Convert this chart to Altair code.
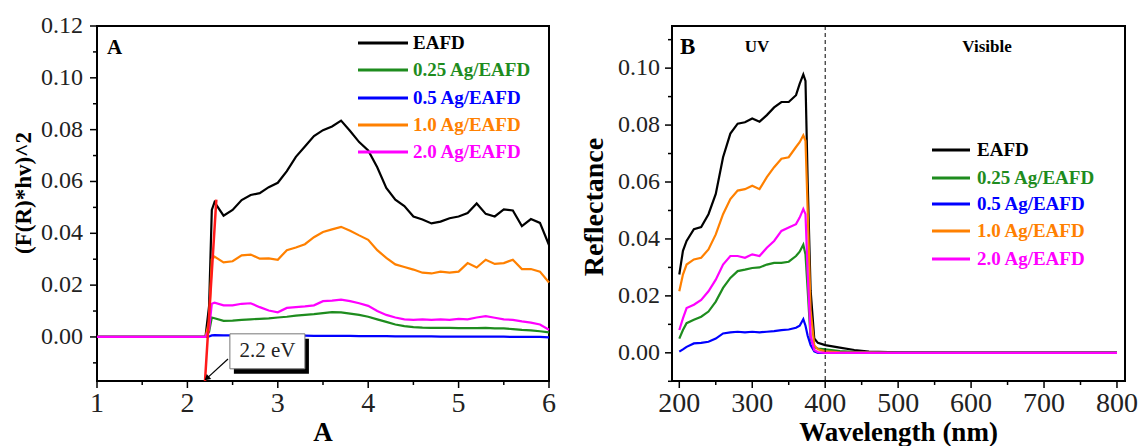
import altair as alt
import pandas as pd

SERIES = ["EAFD", "0.25 Ag/EAFD", "0.5 Ag/EAFD", "1.0 Ag/EAFD", "2.0 Ag/EAFD"]
COLORS = ["#000000", "#1E8C1E", "#0000FF", "#FF8000", "#FF00FF"]

# ---------------- Panel A (Tauc plot) ----------------
A_X = [1.0, 2.2, 2.24, 2.27, 2.3, 2.4, 2.5, 2.6, 2.7, 2.8, 2.9, 3.0, 3.1, 3.2, 3.3, 3.4,
       3.5, 3.6, 3.7, 3.8, 3.9, 4.0, 4.1, 4.2, 4.3, 4.4, 4.5, 4.6, 4.7, 4.8, 4.9, 5.0,
       5.1, 5.2, 5.3, 5.4, 5.5, 5.6, 5.7, 5.8, 5.9, 6.0]
A_EAFD = [0, 0, 0.012, 0.049, 0.052, 0.0468, 0.049, 0.0528, 0.0548, 0.0555, 0.0578, 0.0595,
          0.064, 0.0695, 0.0735, 0.0775, 0.0798, 0.0812, 0.0835, 0.0795, 0.0752, 0.072,
          0.0655, 0.0575, 0.053, 0.0505, 0.0465, 0.0453, 0.0438, 0.0445, 0.0458, 0.0465,
          0.0478, 0.0515, 0.0475, 0.0465, 0.0492, 0.0488, 0.0428, 0.0455, 0.044, 0.0355]
A_025 = [0, 0, 0.002, 0.0075, 0.0072, 0.0062, 0.0063, 0.0066, 0.0068, 0.007, 0.0072, 0.0075,
         0.0078, 0.0082, 0.0085, 0.0088, 0.0092, 0.0096, 0.0095, 0.009, 0.0085, 0.0078,
         0.0068, 0.0058, 0.0048, 0.0042, 0.0038, 0.0036, 0.0035, 0.0035, 0.0035, 0.0034,
         0.0034, 0.0034, 0.0035, 0.0033, 0.0033, 0.003, 0.0027, 0.0025, 0.0022, 0.0018]
A_05 = [0, 0, 0.0002, 0.0006, 0.0007, 0.0006, 0.0006, 0.0006, 0.0005, 0.0005, 0.0005, 0.0005,
        0.0005, 0.0005, 0.0005, 0.0004, 0.0004, 0.0004, 0.0004, 0.0004, 0.0003, 0.0003,
        0.0003, 0.0003, 0.0002, 0.0002, 0.0002, 0.0002, 0.0002, 0.0001, 0.0001, 0.0001,
        0.0001, 0.0001, 0.0001, 0.0001, 0.0001, 0.0, 0.0, 0.0, 0.0, -0.0002]
A_10 = [0, 0, 0.006, 0.030, 0.031, 0.0288, 0.0292, 0.0315, 0.0318, 0.0302, 0.0303, 0.0298,
        0.0335, 0.0345, 0.0358, 0.0385, 0.0405, 0.0415, 0.0425, 0.041, 0.0392, 0.0375,
        0.0335, 0.0305, 0.028, 0.027, 0.026, 0.0248, 0.0245, 0.0252, 0.0248, 0.0252,
        0.0285, 0.0268, 0.0298, 0.0282, 0.0285, 0.0298, 0.0262, 0.0262, 0.0252, 0.021]
A_20 = [0, 0, 0.003, 0.0128, 0.0132, 0.0122, 0.0122, 0.0128, 0.013, 0.0115, 0.0102, 0.0095,
        0.0112, 0.0115, 0.0118, 0.0122, 0.0138, 0.014, 0.0144, 0.0138, 0.013, 0.012,
        0.01, 0.0085, 0.0075, 0.0068, 0.0066, 0.0068, 0.0066, 0.0068, 0.0066, 0.007,
        0.0068, 0.0075, 0.008, 0.0074, 0.0068, 0.0066, 0.006, 0.0055, 0.0048, 0.0028]
A_SERIES = [A_EAFD, A_025, A_05, A_10, A_20]

# tangent line (band gap extrapolation) and annotation
FIT_X = [2.195, 2.32]
FIT_Y = [-0.017, 0.053]
GAP_LABEL = "2.2 eV"
BOX_X = [2.47, 3.30]
BOX_Y = [0.0012, -0.0123]
ARROW_X = [2.449, 2.215]
ARROW_Y = [-0.0085, -0.0160]

# ---------------- Panel B (Reflectance) ----------------
B_X = [200, 205, 210, 220, 230, 240, 250, 260, 270, 280, 290, 300, 310, 320, 330, 340,
       350, 360, 365, 370, 373, 376, 380, 385, 390, 400, 420, 440, 460, 500, 600, 700, 800]
B_EAFD = [0.0275, 0.0358, 0.0393, 0.0434, 0.0442, 0.0487, 0.0558, 0.0687, 0.077, 0.0805,
          0.081, 0.0823, 0.0812, 0.0835, 0.0862, 0.0881, 0.0881, 0.0905, 0.0945, 0.0978,
          0.0955, 0.060, 0.022, 0.005, 0.0035, 0.0027, 0.0018, 0.001, 0.0004, 0.0002,
          0.0001, 0.0001, 0.0001]
B_025 = [0.005, 0.008, 0.0104, 0.0116, 0.0127, 0.0145, 0.018, 0.0228, 0.0263, 0.0287,
         0.0292, 0.0298, 0.030, 0.031, 0.0316, 0.0316, 0.032, 0.034, 0.0355, 0.038,
         0.0345, 0.022, 0.005, 0.002, 0.0015, 0.0012, 0.0006, 0.0003, 0.0002, 0.0001,
         0.0001, 0.0001, 0.0001]
B_05 = [0.0004, 0.0012, 0.0021, 0.0033, 0.0035, 0.0039, 0.005, 0.0068, 0.0072, 0.0074,
        0.0072, 0.0074, 0.0072, 0.0074, 0.0076, 0.008, 0.0082, 0.0088, 0.0095, 0.0118,
        0.0095, 0.006, 0.0027, 0.0005, 0.0, 0.0, 0.0, 0.0, 0.0, 0.0, 0.0, 0.0, 0.0]
B_10 = [0.0216, 0.0275, 0.031, 0.0328, 0.0334, 0.0363, 0.0416, 0.0487, 0.054, 0.057,
        0.0575, 0.0587, 0.0575, 0.0617, 0.0652, 0.0682, 0.0687, 0.0723, 0.074, 0.0764,
        0.0745, 0.050, 0.015, 0.0027, 0.0012, 0.0005, 0.0002, 0.0001, 0.0001, 0.0, 0.0,
        0.0, 0.0]
B_20 = [0.008, 0.0121, 0.0157, 0.0169, 0.0186, 0.0216, 0.0257, 0.031, 0.034, 0.034,
        0.0334, 0.0346, 0.034, 0.0369, 0.0393, 0.0428, 0.044, 0.0452, 0.0475, 0.0505,
        0.0487, 0.028, 0.006, 0.001, 0.0002, 0.0, 0.0, 0.0, 0.0, 0.0, 0.0, 0.0, 0.0]
B_SERIES = [B_EAFD, B_025, B_05, B_10, B_20]
UV_VIS_BORDER = [400]

# ticks
A_XTICKS = [1, 2, 3, 4, 5, 6]
A_XMINOR = [1.5, 2.5, 3.5, 4.5, 5.5]
A_YTICKS = [0.0, 0.02, 0.04, 0.06, 0.08, 0.10, 0.12]
A_YMINOR = [-0.01, 0.01, 0.03, 0.05, 0.07, 0.09, 0.11]
B_XTICKS = [200, 300, 400, 500, 600, 700, 800]
B_XMINOR = [250, 350, 450, 550, 650, 750]
B_YTICKS = [0.0, 0.02, 0.04, 0.06, 0.08, 0.10]
B_YMINOR = [-0.01, 0.01, 0.03, 0.05, 0.07, 0.09, 0.11]

SERIF = "Liberation Serif"
W, H = 452, 355
MAJOR, MINOR = 7, 4
TICK_COLOR = "black"
LABEL_COLOR = "#222222"


def text_at(txt, px, py, size, color="black", weight="bold", align="left", angle=0):
    return alt.Chart(pd.DataFrame({"t": [txt]})).mark_text(
        font=SERIF, fontSize=size, fontWeight=weight, color=color, align=align,
        baseline="middle", angle=angle,
    ).encode(text="t:N", x=alt.value(px), y=alt.value(py))


def legend(x0, x1, xt, ys):
    layers = []
    for name, col, yy in zip(SERIES, COLORS, ys):
        layers.append(
            alt.Chart(pd.DataFrame({"t": [name]})).mark_rule(color=col, strokeWidth=3)
            .encode(x=alt.value(x0), x2=alt.value(x1), y=alt.value(yy))
        )
        layers.append(text_at(name, xt, yy, 19, color=col))
    return layers


def axes(xticks, xminor, xfmt, yticks, yminor, yfmt, xscale, yscale,
         xlabel_size, ylabel_size, ylabel_gap):
    out = []
    for vals, size in ((xticks, MAJOR), (xminor, MINOR)):
        out.append(alt.Chart(pd.DataFrame({"v": vals})).mark_rule(
            color=TICK_COLOR, strokeWidth=1.5).encode(
            x=alt.X("v:Q", scale=xscale, axis=None), y=alt.value(H), y2=alt.value(H + size)))
    for vals, size in ((yticks, MAJOR), (yminor, MINOR)):
        out.append(alt.Chart(pd.DataFrame({"v": vals})).mark_rule(
            color=TICK_COLOR, strokeWidth=1.5).encode(
            y=alt.Y("v:Q", scale=yscale, axis=None), x=alt.value(-size), x2=alt.value(0)))
    xl = pd.DataFrame({"v": xticks, "t": [format(v, xfmt) for v in xticks]})
    out.append(alt.Chart(xl).mark_text(
        font=SERIF, fontSize=xlabel_size, color=LABEL_COLOR, baseline="alphabetic",
        align="center").encode(
        x=alt.X("v:Q", scale=xscale, axis=None), y=alt.value(H + 31), text="t:N"))
    yl = pd.DataFrame({"v": yticks, "t": [format(v, yfmt) for v in yticks]})
    out.append(alt.Chart(yl).mark_text(
        font=SERIF, fontSize=ylabel_size, color=LABEL_COLOR, baseline="middle",
        align="right").encode(
        y=alt.Y("v:Q", scale=yscale, axis=None), x=alt.value(-ylabel_gap), text="t:N"))
    return out


def series_layers(xs, ys_list, xscale, yscale):
    layers = []
    for col, ys in zip(COLORS, ys_list):
        df = pd.DataFrame({"x": xs, "y": ys})
        layers.append(alt.Chart(df).mark_line(color=col, strokeWidth=2.2).encode(
            x=alt.X("x:Q", scale=xscale, axis=None),
            y=alt.Y("y:Q", scale=yscale, axis=None)))
    return layers


# ----- left chart -----
a_xs = alt.Scale(domain=[1, 6], nice=False, zero=False)
a_ys = alt.Scale(domain=[-0.017, 0.12], nice=False, zero=False)

fit = alt.Chart(pd.DataFrame({"x": FIT_X, "y": FIT_Y})).mark_line(
    color="#FF1A1A", strokeWidth=2.5).encode(
    x=alt.X("x:Q", scale=a_xs, axis=None), y=alt.Y("y:Q", scale=a_ys, axis=None))
arrow_df = pd.DataFrame({"x": ARROW_X, "y": ARROW_Y})
arrow_line = alt.Chart(arrow_df).mark_line(color="black", strokeWidth=1.2).encode(
    x=alt.X("x:Q", axis=None), y=alt.Y("y:Q", axis=None))
arrow_head = alt.Chart(arrow_df.iloc[[1]]).mark_point(
    shape="triangle-up", filled=True, color="black", size=45, angle=228, opacity=1
).encode(x=alt.X("x:Q", axis=None), y=alt.Y("y:Q", axis=None))
box_df = pd.DataFrame({"x": [BOX_X[0]], "x2": [BOX_X[1]], "y": [BOX_Y[0]], "y2": [BOX_Y[1]],
                       "t": [GAP_LABEL], "xc": [(BOX_X[0] + BOX_X[1]) / 2],
                       "yc": [(BOX_Y[0] + BOX_Y[1]) / 2]})
box_shadow = alt.Chart(box_df).mark_rect(
    color="black", xOffset=4, x2Offset=4, yOffset=5, y2Offset=5
).encode(x=alt.X("x:Q", axis=None), x2="x2", y=alt.Y("y:Q", axis=None), y2="y2")
box = alt.Chart(box_df).mark_rect(fill="white", stroke="#777777", strokeWidth=1).encode(
    x=alt.X("x:Q", axis=None), x2="x2", y=alt.Y("y:Q", axis=None), y2="y2")
box_text = alt.Chart(box_df).mark_text(font=SERIF, fontSize=21, color="#222222").encode(
    x=alt.X("xc:Q", axis=None), y=alt.Y("yc:Q", axis=None), text="t:N")

left = alt.layer(
    *series_layers(A_X, A_SERIES, a_xs, a_ys),
    *axes(A_XTICKS, A_XMINOR, "d", A_YTICKS, A_YMINOR, ".2f", a_xs, a_ys, 28, 24, 14),
    fit, arrow_line, arrow_head, box_shadow, box, box_text,
    text_at("A", 10, 22, 21),
    *legend(261, 311, 316, [17, 44, 72, 99, 126]),
    text_at("A", W / 2, 407, 27, align="center"),
    text_at("(F(R)*hv)^2", -73, 167, 23, align="center", angle=270),
).properties(width=W, height=H)

# ----- right chart -----
b_xs = alt.Scale(domain=[190, 811], nice=False, zero=False)
b_ys = alt.Scale(domain=[-0.0099, 0.1148], nice=False, zero=False)

divider = alt.Chart(pd.DataFrame({"x": UV_VIS_BORDER})).mark_rule(
    color="black", strokeWidth=1, strokeDash=[4, 3]).encode(
    x=alt.X("x:Q", scale=b_xs, axis=None))

right = alt.layer(
    *series_layers(B_X, B_SERIES, b_xs, b_ys), divider,
    *axes(B_XTICKS, B_XMINOR, "d", B_YTICKS, B_YMINOR, ".2f", b_xs, b_ys, 28, 24, 12),
    text_at("B", 8, 21, 23),
    text_at("UV", 85, 21, 17, align="center"),
    text_at("Visible", 315, 21, 17, align="center"),
    *legend(260, 298, 305, [124, 152, 178, 205, 233]),
    text_at("Wavelength (nm)", (W + 1) / 2, 407, 27, align="center"),
    text_at("Reflectance", -77, 181, 28, align="center", angle=270),
).properties(width=W + 1, height=H)

chart = alt.hconcat(left, right, spacing=123, bounds="flush").configure_view(
    stroke="black", strokeWidth=2
).properties(padding={"left": 12, "top": 13, "right": 0, "bottom": 0}, background="white")

chart.save("out.html", embed_options={"renderer": "svg", "actions": False})
